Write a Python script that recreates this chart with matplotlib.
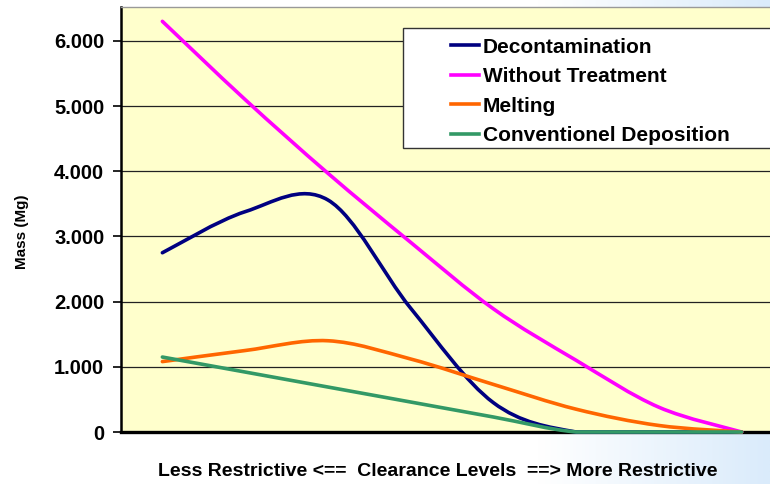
import numpy as np
import matplotlib
matplotlib.use("Agg")
from matplotlib import pyplot as plt
from matplotlib.path import Path
from matplotlib.patches import PathPatch, Rectangle
from matplotlib.lines import Line2D
from matplotlib.ticker import FixedLocator, FuncFormatter

plt.rcParams['font.family'] = ['Liberation Sans', 'DejaVu Sans']
plt.rcParams['font.weight'] = 'bold'

# eight clearance levels, from less restrictive to more restrictive
levels = np.arange(8)
decontamination = [2750, 3380, 3560, 1900, 450, 0, 0, 0]
without_treatment = [6300, 5100, 3970, 2910, 1890, 1100, 380, 0]
melting = [1080, 1250, 1400, 1120, 730, 350, 100, 0]
conventional = [1150, 920, 690, 460, 230, 0, 0, 0]

series_names = ["Decontamination", "Without Treatment", "Melting", "Conventionel Deposition"]
series_colors = ["#000080", "#FF00FF", "#FF6600", "#339966"]
yticks = [0, 1000, 2000, 3000, 4000, 5000, 6000]


def smooth_path(x, y):
    # cubic bezier through every point, tangents from the neighbours,
    # control points kept above zero so the curve never dips under the axis
    x = np.asarray(x, float)
    y = np.asarray(y, float)
    px = np.concatenate([[x[0]], x, [x[-1]]])
    py = np.concatenate([[y[0]], y, [y[-1]]])
    verts = [(x[0], y[0])]
    codes = [Path.MOVETO]
    for i in range(len(x) - 1):
        c1 = (x[i] + (px[i + 2] - px[i]) / 6, max(0, y[i] + (py[i + 2] - py[i]) / 6))
        c2 = (x[i + 1] - (px[i + 3] - px[i + 1]) / 6, max(0, y[i + 1] - (py[i + 3] - py[i + 1]) / 6))
        verts += [c1, c2, (x[i + 1], y[i + 1])]
        codes += [Path.CURVE4] * 3
    return Path(verts, codes)


W, H = 770, 484
fig = plt.figure(figsize=(W / 100, H / 100), dpi=100)

# white to pale blue backdrop
bg = fig.add_axes([0, 0, 1, 1], zorder=-10)
grad = np.clip((np.linspace(0, 1, 400) - 0.70) / 0.30, 0, 1)
white = np.array([1.0, 1.0, 1.0])
blue = np.array([0xDA, 0xEB, 0xFB]) / 255
img = white[None, None, :] * (1 - grad[None, :, None]) + blue[None, None, :] * grad[None, :, None]
bg.imshow(np.repeat(img, 2, axis=0), aspect='auto', extent=[0, 1, 0, 1])
bg.set_axis_off()

ax = fig.add_axes([121 / W, (H - 432) / H, 662 / W, 425 / H])
ax.set_facecolor("#FFFFCC")
ax.set_xlim(-0.5, 7.5)
ax.set_ylim(0, 6520)

for y, color in zip([decontamination, without_treatment, melting, conventional], series_colors):
    ax.add_patch(PathPatch(smooth_path(levels, y), facecolor='none', edgecolor=color,
                           lw=2.6, capstyle='round', zorder=5, clip_on=False))

ax.yaxis.set_major_locator(FixedLocator(yticks))
ax.yaxis.set_major_formatter(FuncFormatter(lambda v, p: f"{int(v):,}".replace(",", ".")))
ax.grid(axis='y', color='#222222', lw=0.9)
ax.set_axisbelow(True)
ax.set_xticks([])
ax.tick_params(axis='y', direction='out', length=6, width=1.2, pad=6, labelsize=14.5)
for lab in ax.get_yticklabels():
    lab.set_fontweight('bold')

ax.spines['left'].set_linewidth(1.8)
ax.spines['bottom'].set_linewidth(2.4)
ax.spines['top'].set_color('#999999')
ax.spines['top'].set_linewidth(1.0)
ax.spines['right'].set_visible(False)

fig.text(22 / W, 1 - 232 / H, "Mass (Mg)", rotation=90, ha='center', va='center',
         fontsize=11, fontweight='bold')
fig.text(438 / W, 1 - 471 / H, "Less Restrictive <==  Clearance Levels  ==> More Restrictive",
         ha='center', va='center', fontsize=14, fontweight='bold')

# legend box
fig.patches.append(Rectangle((403 / W, 1 - 148 / H), 400 / W, 120 / H, transform=fig.transFigure,
                             facecolor='white', edgecolor='#333333', lw=1.0, zorder=6))
handles = [Line2D([], [], color=c, lw=2.6) for c in series_colors]
leg = fig.legend(handles, series_names, loc='upper left', bbox_to_anchor=(434 / W, 1 - 21 / H),
                 frameon=False, prop={'weight': 'bold', 'size': 15},
                 handlelength=1.35, handletextpad=0.2, labelspacing=0.5, borderpad=0.3)
leg.set_zorder(20)

fig.savefig("out.png", dpi=100)
